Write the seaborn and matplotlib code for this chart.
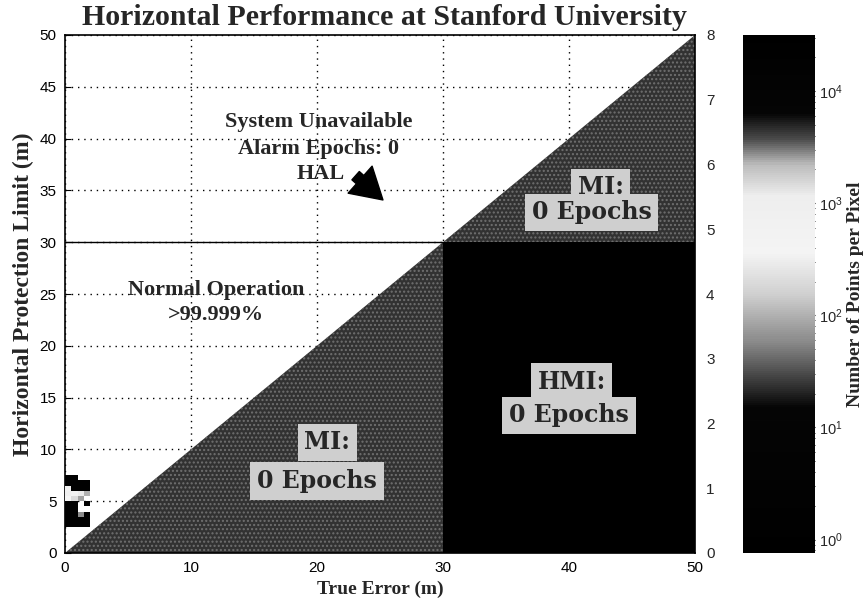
import numpy as np
import matplotlib
matplotlib.use("Agg")
import matplotlib.pyplot as plt
import seaborn as sns
import pandas as pd
from matplotlib.colors import LogNorm, LinearSegmentedColormap
from matplotlib.collections import QuadMesh
from matplotlib.ticker import LogFormatterMathtext

# ---------------- data ----------------
# 2-D histogram cells near the origin: true error (m), HPL (m), points per pixel
cell_err = [0.0, 0.5,
            0.0, 0.5, 1.0, 1.5,
            0.0, 0.5, 1.0, 1.5,
            0.0, 0.5, 1.0, 1.5,
            0.0, 0.5, 1.0,
            0.0, 0.5, 1.5,
            0.0, 0.5,
            0.0, 0.5, 1.0, 1.5,
            0.0, 0.5, 1.0, 1.5,
            0.0, 0.5, 1.0, 1.5]
cell_hpl = [7.0, 7.0,
            6.5, 6.5, 6.5, 6.5,
            6.0, 6.0, 6.0, 6.0,
            5.5, 5.5, 5.5, 5.5,
            5.0, 5.0, 5.0,
            4.5, 4.5, 4.5,
            4.0, 4.0,
            3.5, 3.5, 3.5, 3.5,
            3.0, 3.0, 3.0, 3.0,
            2.5, 2.5, 2.5, 2.5]
cell_count = [20000, 20000,
              20000, 20000, 20000, 20000,
              700, 20000, 20000, 20000,
              900, 500, 300, 100,
              400, 200, 80,
              20000, 20000, 20000,
              20000, 20000,
              20000, 20000, 60, 20000,
              20000, 20000, 20000, 20000,
              20000, 20000, 20000, 20000]

alert_limit = 30          # HAL (m)
axis_max = 50             # plot range (m)
bin_width = 0.5           # pixel size (m)

x_ticks = [0, 10, 20, 30, 40, 50]
y_ticks = [0, 5, 10, 15, 20, 25, 30, 35, 40, 45, 50]
right_ticks = [0, 1, 2, 3, 4, 5, 6, 7, 8]
cbar_ticks = [1e0, 1e1, 1e2, 1e3, 1e4]
cbar_range = (10 ** -0.12, 10 ** 4.5)

title = "Horizontal Performance at Stanford University"
xlabel = "True Error (m)"
ylabel = "Horizontal Protection Limit (m)"
cbar_label = "Number of Points per Pixel"

# ---------------- style ----------------
sns.set_style("white")
plt.rcParams["font.family"] = ["Liberation Sans", "DejaVu Sans"]
plt.rcParams["mathtext.fontset"] = "dejavusans"
plt.rcParams["hatch.linewidth"] = 1.0

serif_b = dict(family=["Liberation Serif", "DejaVu Serif"], weight="bold")
box_font = dict(family=["DejaVu Serif"], weight="bold")

# grayscale rendering of the (scanned) colour map
cmap = LinearSegmentedColormap.from_list(
    "scan_gray",
    [(0.00, "#000000"), (0.28, "#050505"), (0.33, "#3a3a3a"), (0.41, "#8c8c8c"),
     (0.50, "#d0d0d0"), (0.58, "#f4f4f4"), (0.69, "#eeeeee"), (0.75, "#bdbdbd"),
     (0.80, "#4a4a4a"), (0.85, "#050505"), (1.00, "#000000")])

W, H = 865, 608
fig = plt.figure(figsize=(W / 100, H / 100), dpi=100)
ax = fig.add_axes([65 / W, 1 - 553 / H, 630 / W, 518 / H])
cax = fig.add_axes([743 / W, 1 - 553 / H, 72 / W, 518 / H])

# grid (drawn underneath the shaded regions)
ax.set_axisbelow(True)
ax.set_xlim(0, axis_max)
ax.set_ylim(0, axis_max)
ax.set_xticks(x_ticks)
ax.set_yticks(y_ticks)
ax.grid(True, color="black", linestyle=(0, (1, 3.5)), linewidth=1.0)

# shaded regions
shade = "#323232"
speck = "#707070"
ax.fill([0, alert_limit, alert_limit], [0, alert_limit, 0],
        facecolor=shade, edgecolor=speck, hatch="....", linewidth=0, zorder=1)
ax.fill([alert_limit, axis_max, axis_max], [alert_limit, axis_max, alert_limit],
        facecolor=shade, edgecolor=speck, hatch="....", linewidth=0, zorder=1)
ax.fill([alert_limit, axis_max, axis_max, alert_limit], [0, 0, alert_limit, alert_limit],
        facecolor="black", edgecolor="none", linewidth=0, zorder=1.1)
ax.plot([0, alert_limit], [alert_limit, alert_limit], color="black", lw=1.0, zorder=2)

# data histogram
df = pd.DataFrame({"err": cell_err, "hpl": cell_hpl, "count": cell_count})
sns.histplot(data=df, x="err", y="hpl", weights="count", binwidth=bin_width,
             binrange=((0, axis_max), (0, axis_max)), cmap=cmap, cbar=False,
             ax=ax, zorder=3)
mesh = [c for c in ax.collections if isinstance(c, QuadMesh)][-1]
mesh.set_norm(LogNorm(vmin=cbar_range[0], vmax=cbar_range[1]))
mesh.set_cmap(cmap)

ax.set_xlim(0, axis_max)
ax.set_ylim(0, axis_max)
ax.set_xlabel(xlabel, fontsize=14, labelpad=4, **serif_b)
ax.set_ylabel(ylabel, fontsize=17, labelpad=4, **serif_b)
ax.tick_params(axis="both", direction="in", length=4, width=0.8, labelsize=11,
               pad=6, colors="black")
for s in ax.spines.values():
    s.set_color("black")
    s.set_linewidth(1.2)

# secondary right axis 0..8
ax2 = ax.twinx()
ax2.set_ylim(0, 8)
ax2.set_yticks(right_ticks)
ax2.tick_params(axis="y", direction="in", length=0, labelsize=11, pad=8)
for s in ax2.spines.values():
    s.set_visible(False)

# annotations
txt_kw = dict(ha="center", va="center", fontsize=16, zorder=7, **serif_b)
ax.text(20.1, 41.6, "System Unavailable", **txt_kw)
ax.text(20.1, 39.0, "Alarm Epochs: 0", **txt_kw)
ax.text(20.3, 36.6, "HAL", **txt_kw)
ax.annotate("", xy=(25.4, 33.9), xytext=(22.9, 36.6),
            arrowprops=dict(arrowstyle="simple,head_length=1.1,head_width=1.3,tail_width=0.4",
                            color="black", mutation_scale=20), zorder=7)
ax.text(12.0, 25.4, "Normal Operation", **txt_kw)
ax.text(12.0, 23.0, ">99.999%", **txt_kw)

box = dict(boxstyle="square,pad=0.28", facecolor="#cfcfcf", edgecolor="none")
bx_kw = dict(ha="center", va="center", fontsize=17, zorder=8, bbox=box, **box_font)
ax.text(42.5, 35.3, "MI:", **bx_kw)
ax.text(41.8, 32.9, "0 Epochs", **bx_kw)
ax.text(40.2, 16.5, "HMI:", **bx_kw)
ax.text(40.0, 13.3, "0 Epochs", **bx_kw)
ax.text(20.8, 10.7, "MI:", **bx_kw)
ax.text(20.0, 6.95, "0 Epochs", **bx_kw)

# colorbar
cb = fig.colorbar(mesh, cax=cax)
cb.outline.set_visible(False)
cb.set_ticks(cbar_ticks)
cb.ax.yaxis.set_major_formatter(LogFormatterMathtext())
cax.tick_params(which="both", direction="in", left=True, right=True,
                labelsize=10.5, color="black", pad=3)
cax.tick_params(which="major", length=5)
cax.tick_params(which="minor", length=3)
cb.set_label(cbar_label, fontsize=14, **serif_b)
cax.yaxis.set_label_coords((847 - 743) / 72, 0.5)

fig.text(82 / W, 1 - 25 / H, title, ha="left", va="baseline", fontsize=21.5, **serif_b)

fig.savefig("out.png", dpi=100)
